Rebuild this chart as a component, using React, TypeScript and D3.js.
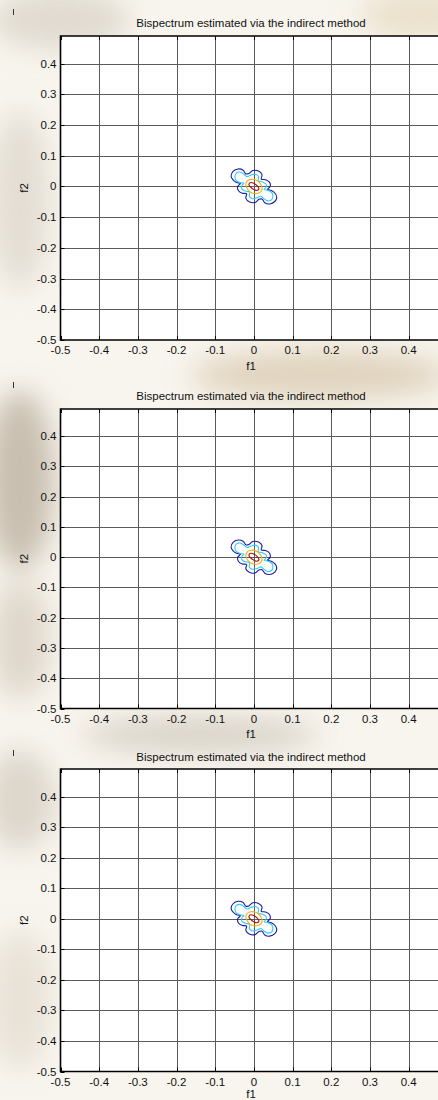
import React from "react";
import * as d3 from "d3";

// axis ticks (same on both axes)
const F1_TICKS = [-0.5, -0.4, -0.3, -0.2, -0.1, 0, 0.1, 0.2, 0.3, 0.4];
const F2_TICKS = [-0.5, -0.4, -0.3, -0.2, -0.1, 0, 0.1, 0.2, 0.3, 0.4];
const AXIS_DOMAIN: [number, number] = [-0.5, 0.49];

const TITLE = "Bispectrum estimated via the indirect method";

// contour levels, [f1, f2] pairs, outermost first
const LEVEL_1: Array<[number, number]> = [
  [-0.059, 0.033], [-0.054, 0.049], [-0.041, 0.057], [-0.028, 0.053],
  [-0.021, 0.041], [-0.013, 0.042], [-0.003, 0.052], [0.012, 0.050],
  [0.021, 0.038], [0.019, 0.024], [0.030, 0.022], [0.040, 0.014],
  [0.042, 0.0], [0.035, -0.010], [0.045, -0.013], [0.055, -0.023],
  [0.059, -0.036], [0.054, -0.049], [0.041, -0.057], [0.028, -0.053],
  [0.021, -0.041], [0.013, -0.042], [0.003, -0.052], [-0.012, -0.050],
  [-0.021, -0.038], [-0.019, -0.024], [-0.030, -0.022], [-0.040, -0.014],
  [-0.042, 0.0], [-0.035, 0.010], [-0.045, 0.013], [-0.055, 0.023],
];
const LEVEL_2: Array<[number, number]> = [
  [-0.049, 0.030], [-0.046, 0.043], [-0.036, 0.047], [-0.026, 0.040],
  [-0.018, 0.032], [-0.008, 0.037], [0.004, 0.040], [0.012, 0.032],
  [0.011, 0.018], [0.022, 0.015], [0.031, 0.008], [0.031, -0.003],
  [0.026, -0.010], [0.037, -0.013], [0.046, -0.020], [0.049, -0.030],
  [0.046, -0.043], [0.036, -0.047], [0.026, -0.040], [0.018, -0.032],
  [0.008, -0.037], [-0.004, -0.040], [-0.012, -0.032], [-0.011, -0.018],
  [-0.022, -0.015], [-0.031, -0.008], [-0.031, 0.003], [-0.026, 0.010],
  [-0.037, 0.013], [-0.046, 0.020],
];
const LEVEL_3: Array<[number, number]> = [
  [-0.021, 0.007], [-0.018, 0.017], [-0.008, 0.023], [0.005, 0.021],
  [0.014, 0.013], [0.019, 0.003], [0.021, -0.007], [0.018, -0.017],
  [0.008, -0.023], [-0.005, -0.021], [-0.014, -0.013], [-0.019, -0.003],
];
const LEVEL_4: Array<[number, number]> = [
  [-0.013, 0.007], [-0.008, 0.013], [0.0, 0.010], [0.008, 0.003],
  [0.013, -0.007], [0.008, -0.013], [0.0, -0.010], [-0.008, -0.003],
];
const LEVEL_COLORS = ["#1c1ca0", "#2ccdf7", "#f5b212", "#a01212"];

const CONTOURS = [LEVEL_1, LEVEL_2, LEVEL_3, LEVEL_4].map((points, i) => ({
  points,
  color: LEVEL_COLORS[i],
}));

// three stacked copies of the same figure
const PANELS = [
  { mark: 12, title: 23, top: 36, bottom: 340, labels: 350, xlabel: 366 },
  { mark: 385, title: 396, top: 409, bottom: 708.5, labels: 719, xlabel: 734 },
  { mark: 753, title: 757, top: 769, bottom: 1071.5, labels: 1082, xlabel: 1094 },
];

const FONT = "'Liberation Sans', Arial, Helvetica, sans-serif";

const fmt = (t: number) => String(+t.toFixed(1));

type PanelLayout = (typeof PANELS)[number];

const Panel = ({ layout }: { layout: PanelLayout }) => {
  const left = 60.5;
  const x = d3.scaleLinear().domain(AXIS_DOMAIN).range([left, left + 383]);
  const y = d3
    .scaleLinear()
    .domain(AXIS_DOMAIN)
    .range([layout.bottom, layout.top]);
  const right = x(AXIS_DOMAIN[1]);

  const line = d3
    .line<[number, number]>()
    .x((d) => x(d[0]))
    .y((d) => y(d[1]))
    .curve(d3.curveCatmullRomClosed.alpha(0.5));

  const cx = (v: number) => Math.round(x(v)) + 0.5;
  const cy = (v: number) => Math.round(y(v)) + 0.5;

  return (
    <g>
      <line
        x1={13.5}
        x2={13.5}
        y1={layout.mark - 3}
        y2={layout.mark + 3}
        stroke="#333"
        strokeWidth={1}
      />
      <text
        x={251}
        y={layout.title + 4}
        textAnchor="middle"
        fontFamily={FONT}
        fontSize={11.5}
        fill="#111"
      >
        {TITLE}
      </text>
      <rect
        x={left}
        y={layout.top}
        width={right - left}
        height={layout.bottom - layout.top}
        fill="#fff"
      />
      {F1_TICKS.filter((t) => t > -0.5).map((t) => (
        <line
          key={"gx" + t}
          x1={cx(t)}
          x2={cx(t)}
          y1={layout.top}
          y2={layout.bottom}
          stroke="#5a5a5a"
          strokeWidth={1}
        />
      ))}
      {F2_TICKS.filter((t) => t > -0.5).map((t) => (
        <line
          key={"gy" + t}
          x1={left}
          x2={right}
          y1={cy(t)}
          y2={cy(t)}
          stroke="#5a5a5a"
          strokeWidth={1}
        />
      ))}
      {/* tick marks, drawn inward */}
      {F1_TICKS.map((t) => (
        <g key={"tx" + t}>
          <line x1={cx(t)} x2={cx(t)} y1={layout.bottom} y2={layout.bottom - 4} stroke="#000" />
          <line x1={cx(t)} x2={cx(t)} y1={layout.top} y2={layout.top + 4} stroke="#000" />
        </g>
      ))}
      {F2_TICKS.map((t) => (
        <line key={"ty" + t} x1={left} x2={left + 4} y1={cy(t)} y2={cy(t)} stroke="#000" />
      ))}
      {CONTOURS.map((c, i) => (
        <path
          key={"c" + i}
          d={line(c.points) || ""}
          fill="none"
          stroke={c.color}
          strokeWidth={1.1}
        />
      ))}
      <path
        d={`M${right},${layout.top}H${left}V${layout.bottom}H${right}`}
        fill="none"
        stroke="#000"
        strokeWidth={1.6}
      />
      {F2_TICKS.map((t) => (
        <text
          key={"ly" + t}
          x={left - 4}
          y={y(t) + 4}
          textAnchor="end"
          fontFamily={FONT}
          fontSize={11.5}
          fill="#111"
        >
          {fmt(t)}
        </text>
      ))}
      {F1_TICKS.map((t) => (
        <text
          key={"lx" + t}
          x={x(t)}
          y={layout.labels + 4}
          textAnchor="middle"
          fontFamily={FONT}
          fontSize={11.5}
          fill="#111"
        >
          {fmt(t)}
        </text>
      ))}
      <text
        x={251}
        y={layout.xlabel + 4}
        textAnchor="middle"
        fontFamily={FONT}
        fontSize={11.5}
        fill="#111"
      >
        f1
      </text>
      <text
        transform={`translate(28,${(layout.top + layout.bottom) / 2}) rotate(-90)`}
        textAnchor="middle"
        fontFamily={FONT}
        fontSize={11.5}
        fill="#111"
      >
        f2
      </text>
    </g>
  );
};

// faded photo behind the figures, rough blobs
const BLOBS = [
  { cx: 60, cy: 20, rx: 70, ry: 30, c: "#d9d2c6" },
  { cx: 420, cy: 15, rx: 60, ry: 25, c: "#e6d9c0" },
  { cx: 20, cy: 200, rx: 30, ry: 90, c: "#ddd6cb" },
  { cx: 320, cy: 375, rx: 130, ry: 25, c: "#d8c8ad" },
  { cx: 20, cy: 480, rx: 35, ry: 90, c: "#b9ad9c" },
  { cx: 20, cy: 640, rx: 30, ry: 60, c: "#d7cdbf" },
  { cx: 200, cy: 735, rx: 120, ry: 18, c: "#cfc7bb" },
  { cx: 20, cy: 800, rx: 35, ry: 50, c: "#d4ccc0" },
  { cx: 20, cy: 1000, rx: 30, ry: 70, c: "#e3dbcf" },
];

export default function App() {
  return (
    <div
      style={{
        position: "absolute",
        left: 0,
        top: 0,
        width: 438,
        height: 1100,
        overflow: "hidden",
      }}
    >
      <svg width={438} height={1100} style={{ display: "block" }}>
        <defs>
          <filter id="soft" x="-50%" y="-50%" width="200%" height="200%">
            <feGaussianBlur stdDeviation="14" />
          </filter>
        </defs>
        <rect width={438} height={1100} fill="#f8f5ee" />
        <g filter="url(#soft)" opacity={0.75}>
          {BLOBS.map((b, i) => (
            <ellipse key={i} cx={b.cx} cy={b.cy} rx={b.rx} ry={b.ry} fill={b.c} />
          ))}
        </g>
        {PANELS.map((p, i) => (
          <Panel key={i} layout={p} />
        ))}
      </svg>
    </div>
  );
}
